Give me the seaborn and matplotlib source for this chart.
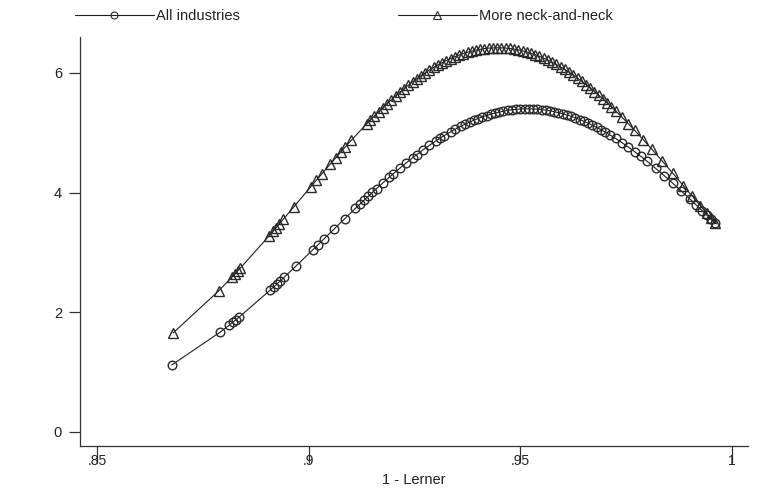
import matplotlib
matplotlib.use("Agg")
import matplotlib.pyplot as plt
import seaborn as sns
import pandas as pd
from matplotlib.lines import Line2D

# ---------------- data ----------------
series_names = ["All industries", "More neck-and-neck"]

all_x = [0.8676, 0.8790, 0.8812, 0.8820, 0.8827, 0.8835, 0.8908, 0.8917, 0.8924, 0.8931,
         0.8941, 0.8969, 0.9010, 0.9022, 0.9035, 0.9060, 0.9085, 0.9110, 0.9120, 0.9130,
         0.9140, 0.9150, 0.9160, 0.9175, 0.9190, 0.9200, 0.9215, 0.9230, 0.9245, 0.9255,
         0.9270, 0.9285, 0.9300, 0.9310, 0.9320, 0.9335, 0.9345, 0.9360, 0.9370, 0.9380,
         0.9390, 0.9400, 0.9410, 0.9420, 0.9430, 0.9440, 0.9450, 0.9460, 0.9470, 0.9480,
         0.9490, 0.9500, 0.9510, 0.9520, 0.9530, 0.9540, 0.9550, 0.9560, 0.9570, 0.9580,
         0.9590, 0.9600, 0.9610, 0.9620, 0.9630, 0.9640, 0.9650, 0.9660, 0.9670, 0.9680,
         0.9690, 0.9700, 0.9712, 0.9725, 0.9740, 0.9755, 0.9770, 0.9785, 0.9800, 0.9820,
         0.9840, 0.9860, 0.9880, 0.9900, 0.9915, 0.9930, 0.9940, 0.9950, 0.9960]
all_y = [1.120, 1.667, 1.788, 1.833, 1.873, 1.919, 2.367, 2.425, 2.470, 2.516,
         2.582, 2.769, 3.049, 3.131, 3.221, 3.394, 3.566, 3.736, 3.803, 3.870,
         3.936, 4.002, 4.067, 4.163, 4.257, 4.318, 4.409, 4.496, 4.581, 4.635,
         4.715, 4.791, 4.863, 4.909, 4.954, 5.016, 5.056, 5.112, 5.146, 5.179,
         5.209, 5.238, 5.264, 5.288, 5.310, 5.329, 5.346, 5.361, 5.374, 5.384,
         5.391, 5.397, 5.400, 5.400, 5.398, 5.394, 5.387, 5.378, 5.367, 5.353,
         5.336, 5.318, 5.297, 5.274, 5.249, 5.221, 5.192, 5.160, 5.126, 5.090,
         5.053, 5.013, 4.962, 4.905, 4.835, 4.761, 4.684, 4.604, 4.520, 4.403,
         4.283, 4.157, 4.029, 3.898, 3.797, 3.696, 3.627, 3.559, 3.490]

neck_x = [0.8679, 0.8787, 0.8818, 0.8825, 0.8832, 0.8838, 0.8905, 0.8915, 0.8922, 0.8930,
          0.8940, 0.8965, 0.9005, 0.9018, 0.9030, 0.9050, 0.9063, 0.9075, 0.9085, 0.9100,
          0.9137, 0.9145, 0.9155, 0.9165, 0.9175, 0.9185, 0.9195, 0.9205, 0.9215, 0.9225,
          0.9235, 0.9245, 0.9255, 0.9265, 0.9275, 0.9285, 0.9295, 0.9305, 0.9315, 0.9325,
          0.9335, 0.9345, 0.9355, 0.9365, 0.9375, 0.9385, 0.9395, 0.9405, 0.9415, 0.9425,
          0.9435, 0.9445, 0.9455, 0.9465, 0.9475, 0.9485, 0.9495, 0.9505, 0.9515, 0.9525,
          0.9535, 0.9545, 0.9555, 0.9565, 0.9575, 0.9585, 0.9595, 0.9605, 0.9615, 0.9625,
          0.9635, 0.9645, 0.9655, 0.9665, 0.9675, 0.9685, 0.9695, 0.9705, 0.9715, 0.9725,
          0.9740, 0.9755, 0.9770, 0.9790, 0.9810, 0.9835, 0.9860, 0.9885, 0.9905, 0.9925,
          0.9940, 0.9950, 0.9960]
neck_y = [1.655, 2.359, 2.587, 2.639, 2.693, 2.738, 3.270, 3.351, 3.409, 3.475,
          3.558, 3.767, 4.101, 4.209, 4.308, 4.473, 4.578, 4.674, 4.754, 4.872,
          5.152, 5.210, 5.282, 5.352, 5.420, 5.487, 5.552, 5.615, 5.677, 5.736,
          5.794, 5.849, 5.902, 5.953, 6.001, 6.048, 6.091, 6.133, 6.171, 6.207,
          6.240, 6.271, 6.299, 6.324, 6.346, 6.365, 6.382, 6.395, 6.406, 6.414,
          6.418, 6.420, 6.419, 6.415, 6.408, 6.398, 6.385, 6.369, 6.350, 6.328,
          6.304, 6.277, 6.247, 6.214, 6.178, 6.141, 6.100, 6.057, 6.011, 5.963,
          5.913, 5.860, 5.805, 5.748, 5.689, 5.628, 5.565, 5.500, 5.434, 5.366,
          5.260, 5.152, 5.040, 4.887, 4.731, 4.530, 4.325, 4.118, 3.951, 3.784,
          3.659, 3.576, 3.493]

x_ticks = [0.85, 0.90, 0.95, 1.00]
x_tick_labels = [".85", ".9", ".95", "1"]
y_ticks = [0, 2, 4, 6]
y_tick_labels = ["0", "2", "4", "6"]
x_label = "1 - Lerner"

# ---------------- styling ----------------
sns.set_theme(style="white")
plt.rcParams["font.family"] = ["Liberation Sans", "DejaVu Sans"]

W, H = 763, 493
fig = plt.figure(figsize=(W / 100, H / 100), dpi=100)
fig.patch.set_facecolor("white")
ax = fig.add_axes([80 / W, 47 / H, 668 / W, 409 / H])
ax.set_facecolor("white")

line_color = "#1e1e1e"
mk_color = "#2a2a2a"

common = dict(color=line_color, linewidth=0.8, markerfacecolor="none",
              markeredgecolor=mk_color, markeredgewidth=1.0,
              estimator=None, sort=True, legend=False)

sns.lineplot(x=all_x, y=all_y, ax=ax, marker="o", markersize=6.2, **common)
sns.lineplot(x=neck_x, y=neck_y, ax=ax, marker="^", markersize=6.8, **common)

ax.set_xlim(0.8459, 1.0038)
ax.set_ylim(-0.234, 6.60)

ax.set_xticks(x_ticks)
ax.set_xticklabels(x_tick_labels)
ax.set_yticks(y_ticks)
ax.set_yticklabels(y_tick_labels)

ax.tick_params(axis="x", bottom=True, direction="out", length=12, width=0.9, pad=-6.5,
               labelsize=10, color="#333333", labelcolor="#222222")
ax.tick_params(axis="y", left=True, direction="out", length=8, width=0.9, pad=5,
               labelsize=10.5, color="#333333", labelcolor="#222222")

for side in ["top", "right"]:
    ax.spines[side].set_visible(False)
for side in ["left", "bottom"]:
    ax.spines[side].set_color("#333333")
    ax.spines[side].set_linewidth(0.9)

ax.set_xlabel(x_label, fontsize=10.5, color="#222222", labelpad=4)
ax.set_ylabel("")
ax.grid(False)

# ---------------- legend (two entries above the plot) ----------------
h_all = Line2D([], [], color=line_color, linewidth=0.8, marker="o", markersize=5,
               markerfacecolor="none", markeredgecolor=mk_color, markeredgewidth=0.8)
h_neck = Line2D([], [], color=line_color, linewidth=0.8, marker="^", markersize=5.5,
                markerfacecolor="none", markeredgecolor=mk_color, markeredgewidth=0.8)

leg_kw = dict(loc="center left", frameon=False, handlelength=5.4, handletextpad=0.15,
              fontsize=10.5, borderaxespad=0, borderpad=0, labelcolor="#222222")
fig.legend(handles=[h_all], labels=[series_names[0]],
           bbox_to_anchor=(75 / W, 1 - 16 / H), **leg_kw)
fig.legend(handles=[h_neck], labels=[series_names[1]],
           bbox_to_anchor=(398 / W, 1 - 16 / H), **leg_kw)

fig.savefig("out.png", dpi=100, facecolor="white")
